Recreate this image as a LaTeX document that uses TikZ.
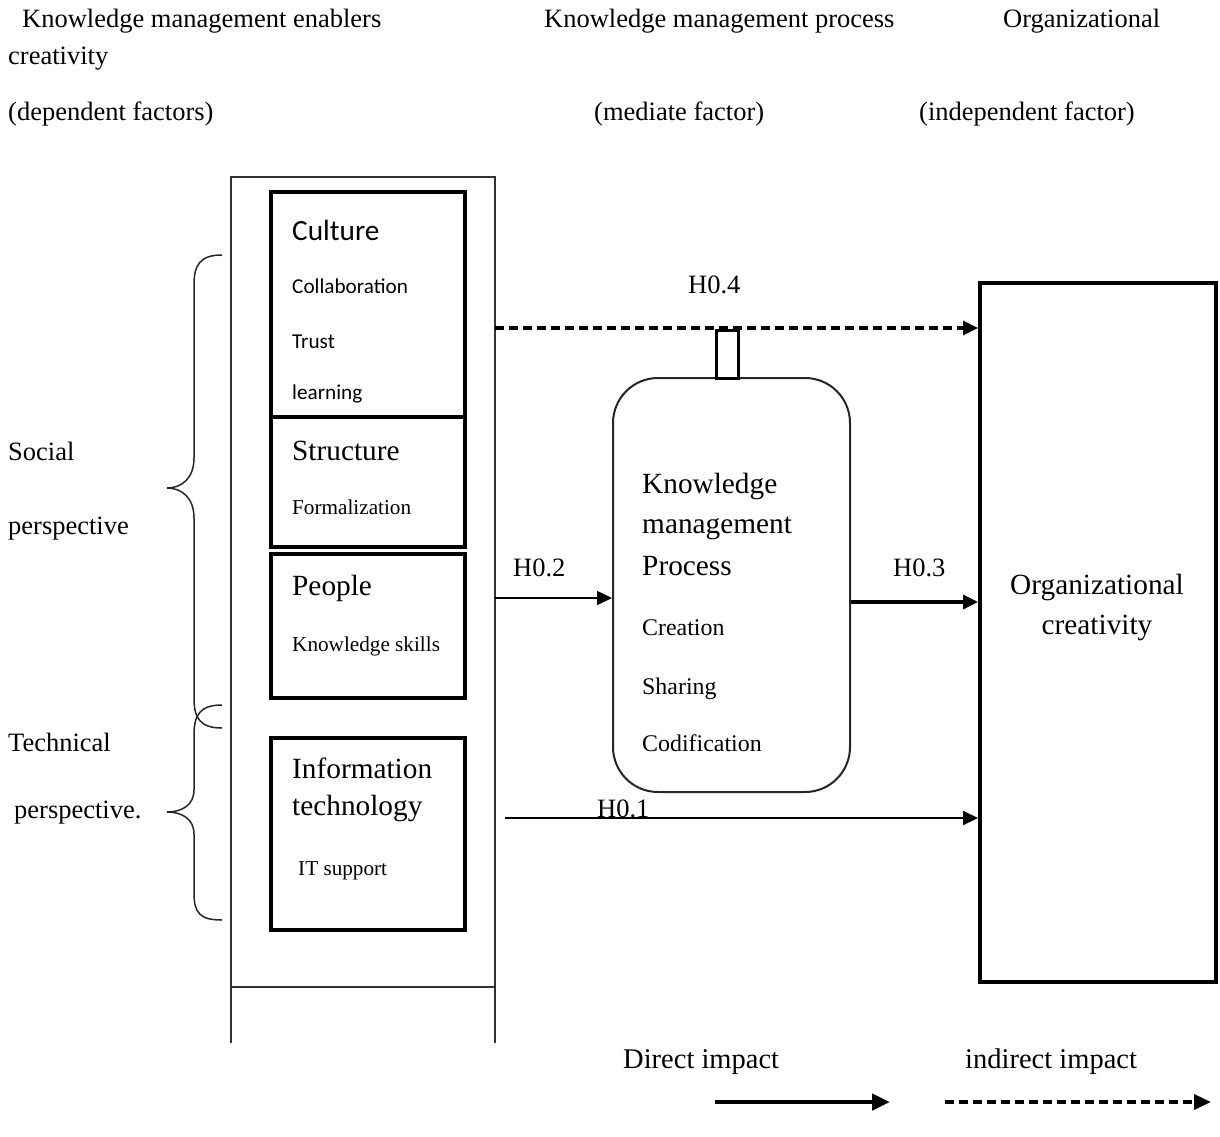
\documentclass[tikz,border=0pt]{standalone}
\usepackage{fontspec}
\setmainfont{Liberation Serif}
\newfontfamily\calfont{Carlito}
\usetikzlibrary{arrows.meta}
\newcommand\fhdr{\fontsize{26.5}{30}\selectfont}
\newcommand\fleg{\fontsize{28.5}{32}\selectfont}
\newcommand\fbig{\fontsize{29.3}{33}\selectfont}
\newcommand\fmid{\fontsize{23.9}{28}\selectfont}
\newcommand\fsmall{\fontsize{21.2}{25}\selectfont}
\begin{document}
\begin{tikzpicture}[x=1pt,y=-1pt,
  txt/.style={anchor=base west, inner sep=0pt},
  hdr/.style={txt, font=\fhdr},
  bigtxt/.style={txt, font=\fbig},
  midtxt/.style={txt, font=\fmid},
  smalltxt/.style={txt, font=\fsmall},
  ebox/.style={draw, line width=3.6pt, minimum width=194pt, inner sep=0pt},
  frame/.style={draw=black!80, line width=1.6pt},
  bracel/.style={draw=black!85, line width=1.5pt},
  tip/.style={-{Triangle[length=15pt,width=14pt]}},
  dsh/.style={dash pattern=on 9pt off 5pt}
]
\fill[white] (0,0) rectangle (1220,1137);
\useasboundingbox (0,0) rectangle (1220,1137);

% headers
\node[hdr] (h1) at (22,28) {Knowledge management enablers};
\node[hdr] (h1b) at (8,65) {creativity};
\node[hdr] (h1c) at (8,121) {(dependent factors)};
\node[hdr] (h2) at (544,28) {Knowledge management process};
\node[hdr] (h2b) at (594,121) {(mediate factor)};
\node[hdr] (h3) at (1003,28) {Organizational};
\node[hdr] (h3b) at (919,121) {(independent factor)};

% side labels
\node[hdr] (soc1) at (8,460) {Social};
\node[hdr] (soc2) at (8,534) {perspective};
\node[hdr] (tec1) at (8,751) {Technical};
\node[hdr] (tec2) at (14,818) {perspective.};

% braces
\path[bracel] (222,255) .. controls (200,255) and (194,265) .. (194,285) -- (194,458)
  .. controls (194,478) and (182,488) .. (167,488) .. controls (182,488) and (194,498) .. (194,518)
  -- (194,698) .. controls (194,718) and (200,728) .. (222,728);
\path[bracel] (222,705) .. controls (200,705) and (194,715) .. (194,735) -- (194,790)
  .. controls (194,805) and (182,812) .. (167,812) .. controls (182,812) and (194,819) .. (194,834)
  -- (194,893) .. controls (194,913) and (200,920) .. (222,920);

% outer frame
\draw[frame] (231,1043) -- (231,177) -- (495,177) -- (495,1043);
\draw[frame] (231,987) -- (495,987);
\node[inner sep=0pt, minimum width=264pt, minimum height=866pt] (enab) at (363,610) {};

% enabler boxes
\node[ebox, minimum height=225pt] (culture) at (368,304.5) {};
\node[ebox, minimum height=130pt] (structure) at (368,482) {};
\node[ebox, minimum height=144pt] (people) at (368,626) {};
\node[ebox, minimum height=192pt] (itbox) at (368,834) {};

\node[txt, font=\calfont\fbig] (tcult) at (292,240) {Culture};
\node[txt, font=\calfont\fsmall] (tcoll) at (292,293) {Collaboration};
\node[txt, font=\calfont\fsmall] (ttrust) at (292,348) {Trust};
\node[txt, font=\calfont\fsmall] (tlearn) at (292,399) {learning};
\node[bigtxt] (tstruct) at (292,460) {Structure};
\node[smalltxt] (tform) at (292,514) {Formalization};
\node[bigtxt] (tpeople) at (292,595) {People};
\node[smalltxt] (tks) at (292,651) {Knowledge skills};
\node[bigtxt] (tinfo) at (292,778) {Information};
\node[bigtxt] (ttech) at (292,815) {technology};
\node[smalltxt] (tits) at (298,875) {IT support};

% KM process
\node[draw=black!85, line width=2pt, rounded corners=45pt, minimum width=237pt, minimum height=414pt, inner sep=0pt] (kmp) at (731.5,585) {};
\node[draw, line width=3pt, minimum width=22pt, minimum height=48pt, inner sep=0pt] (link) at (727,354) {};
\node[bigtxt] (k1) at (642,493) {Knowledge};
\node[bigtxt] (k2) at (642,533) {management};
\node[bigtxt] (k3) at (642,575) {Process};
\node[midtxt] (k4) at (642,635) {Creation};
\node[midtxt] (k5) at (642,694) {Sharing};
\node[midtxt] (k6) at (642,751) {Codification};

% organizational creativity
\node[draw, line width=4pt, minimum width=236pt, minimum height=699pt, inner sep=0pt] (org) at (1098,632.5) {};
\node[anchor=base, inner sep=0pt, font=\fbig] (o1) at (1097,594) {Organizational};
\node[anchor=base, inner sep=0pt, font=\fbig] (o2) at (1097,634) {creativity};

% arrows
\coordinate (y328) at (0,328);
\coordinate (y598) at (0,598);
\coordinate (y602) at (0,602);
\coordinate (h1s) at (505,818);
\draw[tip, line width=3.2pt, dsh] (enab.east |- y328) -- (org.west |- y328);
\draw[tip, line width=1.6pt] (enab.east |- y598) -- (kmp.west |- y598);
\draw[tip, line width=3.4pt] (kmp.east |- y602) -- (org.west |- y602);
\draw[tip, line width=2pt] (h1s) -- (org.west |- h1s);

\node[hdr] (l4) at (688,293) {H0.4};
\node[hdr] (l2) at (513,576) {H0.2};
\node[hdr] (l3) at (893,576) {H0.3};
\node[hdr] (l1) at (597,817) {H0.1};

% legend
\node[txt, font=\fleg] (ld) at (623,1068) {Direct impact};
\node[txt, font=\fleg] (li) at (965,1068) {indirect impact};
\coordinate (ls1) at (715,1102);
\coordinate (ls2) at (890,1102);
\coordinate (ld1) at (945,1102);
\coordinate (ld2) at (1211,1102);
\draw[-{Triangle[length=18pt,width=16pt]}, line width=4.5pt] (ls1) -- (ls2);
\draw[-{Triangle[length=17pt,width=15pt]}, line width=3.5pt, dsh] (ld1) -- (ld2);
\end{tikzpicture}
\end{document}
